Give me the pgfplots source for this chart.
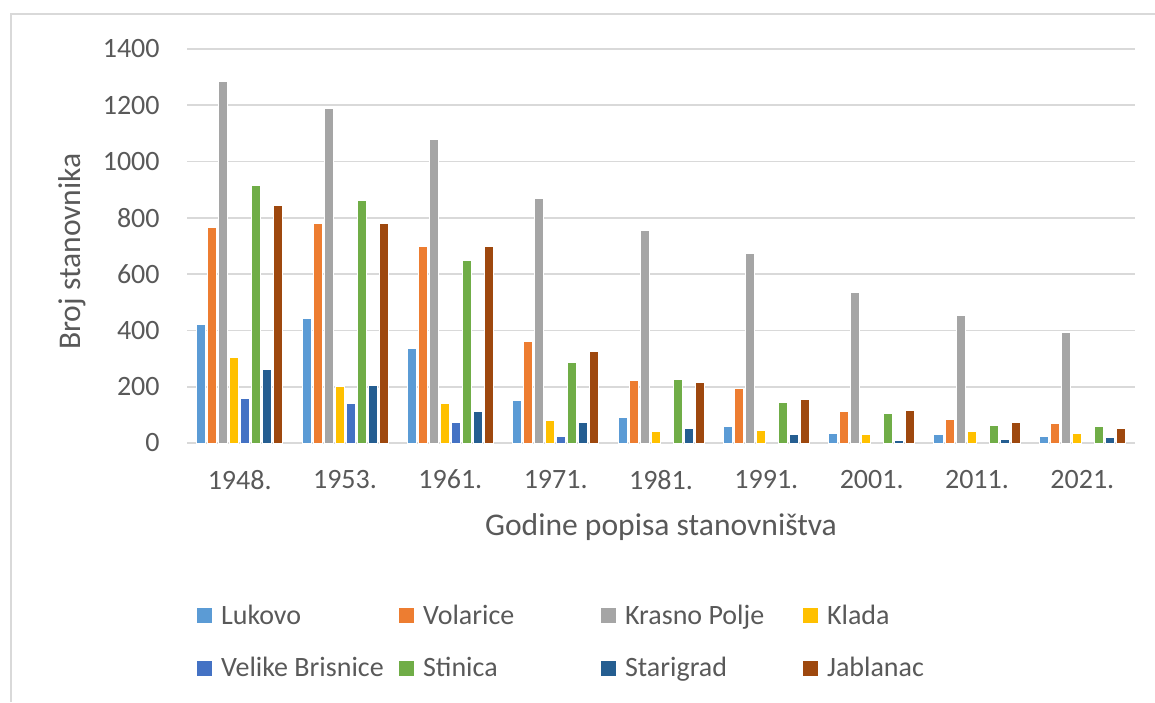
\documentclass[border=0pt]{standalone}
\usepackage{fontspec}
\setmainfont{Carlito}
\usepackage{pgfplots}
\pgfplotsset{compat=1.18}
\definecolor{gridc}{HTML}{D9D9D9}
\definecolor{textc}{HTML}{595959}
\definecolor{cLuk}{HTML}{5B9BD5}
\definecolor{cVol}{HTML}{ED7D31}
\definecolor{cKra}{HTML}{A5A5A5}
\definecolor{cKla}{HTML}{FFC000}
\definecolor{cVel}{HTML}{4472C4}
\definecolor{cSti}{HTML}{70AD47}
\definecolor{cSta}{HTML}{255E91}
\definecolor{cJab}{HTML}{9E480E}
\newcommand{\legtxt}[1]{\makebox[88.8pt][l]{\rule[-2pt]{0pt}{11pt}#1}}
\begin{document}
\begin{tikzpicture}
\path[use as bounding box] (0,0) rectangle (577.5pt,351pt);
\draw[line width=1pt, color=gridc] (5.5pt,0pt) -- (5.5pt,344pt) -- (578pt,344pt);
\begin{axis}[
  at={(93.5pt,129.5pt)}, anchor=south west,
  scale only axis, width=474pt, height=197pt,
  xmin=-0.5, xmax=8.5, ymin=0, ymax=1400,
  ybar=1pt, bar width=4.5pt,
  xtick={0,...,8},
  xticklabels={1948.,1953.,1961.,1971.,1981.,1991.,2001.,2011.,2021.},
  ytick={0,200,...,1400},
  ymajorgrids, grid style={color=gridc, line width=0.8pt},
  axis line style={draw=none}, tick style={draw=none},
  /pgf/number format/assume math mode=true,
  /pgf/number format/1000 sep={},
  ticklabel style={font=\fontsize{14}{17}\selectfont, text=textc, inner sep=0pt},
  yticklabel style={anchor=east, xshift=-13.5pt},
  xticklabel style={anchor=north, yshift=-9pt},
  xlabel={Godine popisa stanovništva},
  ylabel={Broj stanovnika},
  xlabel style={at={(axis description cs:0.5,-0.236)}, anchor=base, font=\fontsize{15.8}{19}\selectfont, text=textc, inner sep=0pt},
  ylabel style={at={(axis description cs:-0.112,0.486)}, anchor=base, font=\fontsize{15.8}{19}\selectfont, text=textc, inner sep=0pt},
  legend columns=4,
  legend style={at={(axis description cs:0.01023,-0.4104)}, anchor=north west,
    draw=none, fill=none, inner sep=0pt, outer sep=0pt,
    font=\fontsize{14}{17}\selectfont, text=textc, row sep=15pt,
    /tikz/every odd column/.style={column sep=4.7pt},
    /tikz/every even column/.style={column sep=0pt},
    cells={anchor=west}, nodes={inner sep=0pt, outer sep=0pt}},
  bars/.style={fill=#1, draw=white, line width=0.5pt,
    legend image code/.code={\fill[##1,draw=none] (0pt,-3.75pt) rectangle (7.5pt,3.75pt);}},
]
\addplot[bars=cLuk] coordinates {(0,420) (1,441) (2,337) (3,151) (4,90) (5,57) (6,35) (7,31) (8,24)};
\addlegendentry{\legtxt{Lukovo}}
\addplot[bars=cVol] coordinates {(0,765) (1,780) (2,697) (3,360) (4,222) (5,195) (6,111) (7,84) (8,69)};
\addlegendentry{\legtxt{Volarice}}
\addplot[bars=cKra] coordinates {(0,1284) (1,1190) (2,1078) (3,868) (4,755) (5,673) (6,534) (7,452) (8,393)};
\addlegendentry{\legtxt{Krasno Polje}}
\addplot[bars=cKla] coordinates {(0,304) (1,200) (2,141) (3,80) (4,40) (5,46) (6,30) (7,40) (8,35)};
\addlegendentry{\legtxt{Klada}}
\addplot[bars=cVel] coordinates {(0,157) (1,141) (2,74) (3,24)};
\addlegendentry{\legtxt{Velike Brisnice}}
\addplot[bars=cSti] coordinates {(0,915) (1,860) (2,648) (3,287) (4,227) (5,145) (6,106) (7,63) (8,58)};
\addlegendentry{\legtxt{Stinica}}
\addplot[bars=cSta] coordinates {(0,261) (1,205) (2,113) (3,74) (4,51) (5,30) (6,8) (7,13) (8,19)};
\addlegendentry{\legtxt{Starigrad}}
\addplot[bars=cJab] coordinates {(0,845) (1,779) (2,697) (3,326) (4,216) (5,155) (6,117) (7,73) (8,51)};
\addlegendentry{\legtxt{Jablanac}}
\end{axis}
\end{tikzpicture}
\end{document}
